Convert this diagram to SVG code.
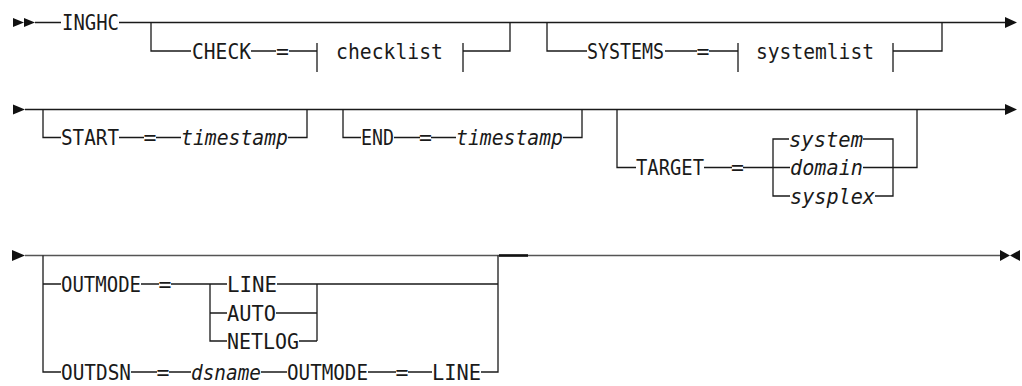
<svg xmlns="http://www.w3.org/2000/svg" width="1022" height="386" viewBox="0 0 1022 386">
<style>
.ln{fill:none;stroke:#1a1a1a;stroke-width:1.3}
.gr{fill:none;stroke:#555;stroke-width:1.5}
.mk{fill:#111;stroke:none}
.t{font-family:"DejaVu Sans Mono","Liberation Mono",monospace;font-size:21.5px;fill:#1a1a1a}
.i{font-style:italic}
.eq{text-anchor:middle}
</style>
<rect width="1022" height="386" fill="#fff"/>
<g id="connectors">
<path class="ln" d="M35,22.5 H61 M119,22.5 H1005"/>
<path class="ln" d="M151,22.5 V51 H191 M251,51 H276 M289,51 H317 M317,43 V72 M463,43 V72 M463,51 H510 V22.5"/>
<path class="ln" d="M547,22.5 V51 H587 M665,51 H697 M709,51 H738 M738,43 V72 M893,43 V72 M893,51 H942 V22.5"/>
<path class="ln" d="M25,109.5 H1005"/>
<path class="ln" d="M43,109.5 V137.5 H61 M119,137.5 H144 M156,137.5 H181 M288,137.5 H307 V109.5"/>
<path class="ln" d="M343,109.5 V137.5 H361 M394,137.5 H420 M431,137.5 H456 M563,137.5 H582 V109.5"/>
<path class="ln" d="M617,109.5 V167.5 H636 M704,167.5 H732 M743,167.5 H790 M789,139 H773 V196 H790 M863,139 H893 V196 H875 M863,167.5 H917 V109.5"/>
<path class="gr" d="M25,255.5 H1000"/>
<rect x="499" y="254.2" width="29" height="2.6" fill="#111"/>
<path class="ln" d="M43,255.5 V372 H61 M43,284 H61"/>
<path class="ln" d="M141,284 H159 M171,284 H227 M210,284 V341 H227 M210,313 H227 M277,284 H498 M276,313 H317 M299,341 H317 M317,284 V341 M498,255.5 V372 H481"/>
<path class="ln" d="M131,372 H157 M169,372 H191 M261,372 H287 M368,372 H396 M408,372 H432"/>
</g>
<g id="row1-start"><polygon class="mk" points="13,18 24,22.5 13,27"/><polygon class="mk" points="24,18 35,22.5 24,27"/></g>
<g id="row1-end"><polygon class="mk" points="1005,17 1017,22.5 1005,28"/></g>
<g id="row2-start"><polygon class="mk" points="13,104.5 25,109.5 13,114.5"/></g>
<g id="row2-end"><polygon class="mk" points="1005,104 1017,109.5 1005,115"/></g>
<g id="row3-start"><polygon class="mk" points="12,250 25,255.5 12,261"/></g>
<g id="row3-end"><polygon class="mk" points="1000,250 1010,255.5 1000,261"/><polygon class="mk" points="1020,250 1010,255.5 1020,261"/></g>

<g id="inghc"><text class="t" x="62" y="30" textLength="57" lengthAdjust="spacingAndGlyphs">INGHC</text></g>
<g id="check"><text class="t" x="192" y="58.5" textLength="59" lengthAdjust="spacingAndGlyphs">CHECK</text><text class="t eq" x="282.5" y="58.5">=</text></g>
<g id="checklist"><text class="t" x="336" y="58.5" textLength="107" lengthAdjust="spacingAndGlyphs">checklist</text></g>
<g id="systems"><text class="t" x="587" y="58.5" textLength="77" lengthAdjust="spacingAndGlyphs">SYSTEMS</text><text class="t eq" x="703" y="58.5">=</text></g>
<g id="systemlist"><text class="t" x="756" y="58.5" textLength="118" lengthAdjust="spacingAndGlyphs">systemlist</text></g>

<g id="start"><text class="t" x="61" y="145" textLength="58" lengthAdjust="spacingAndGlyphs">START</text><text class="t eq" x="150" y="145">=</text><text class="t i" x="181" y="145" textLength="107" lengthAdjust="spacingAndGlyphs">timestamp</text></g>
<g id="end"><text class="t" x="361" y="145" textLength="33" lengthAdjust="spacingAndGlyphs">END</text><text class="t eq" x="425.5" y="145">=</text><text class="t i" x="456" y="145" textLength="107" lengthAdjust="spacingAndGlyphs">timestamp</text></g>
<g id="target"><text class="t" x="636" y="175" textLength="68" lengthAdjust="spacingAndGlyphs">TARGET</text><text class="t eq" x="737.5" y="175">=</text></g>
<g id="target-system"><text class="t i" x="789" y="146.5" textLength="74" lengthAdjust="spacingAndGlyphs">system</text></g>
<g id="target-domain"><text class="t i" x="790" y="175" textLength="73" lengthAdjust="spacingAndGlyphs">domain</text></g>
<g id="target-sysplex"><text class="t i" x="790" y="203.5" textLength="85" lengthAdjust="spacingAndGlyphs">sysplex</text></g>

<g id="outmode"><text class="t" x="61" y="291.5" textLength="80" lengthAdjust="spacingAndGlyphs">OUTMODE</text><text class="t eq" x="165" y="291.5">=</text></g>
<g id="outmode-line"><text class="t" x="227" y="291.5" textLength="50" lengthAdjust="spacingAndGlyphs">LINE</text></g>
<g id="outmode-auto"><text class="t" x="227" y="320.5" textLength="49" lengthAdjust="spacingAndGlyphs">AUTO</text></g>
<g id="outmode-netlog"><text class="t" x="227" y="348.5" textLength="72" lengthAdjust="spacingAndGlyphs">NETLOG</text></g>
<g id="outdsn"><text class="t" x="61" y="379.5" textLength="70" lengthAdjust="spacingAndGlyphs">OUTDSN</text><text class="t eq" x="163" y="379.5">=</text><text class="t i" x="191" y="379.5" textLength="70" lengthAdjust="spacingAndGlyphs">dsname</text><text class="t" x="287" y="379.5" textLength="81" lengthAdjust="spacingAndGlyphs">OUTMODE</text><text class="t eq" x="402" y="379.5">=</text><text class="t" x="432" y="379.5" textLength="49" lengthAdjust="spacingAndGlyphs">LINE</text></g>
</svg>
